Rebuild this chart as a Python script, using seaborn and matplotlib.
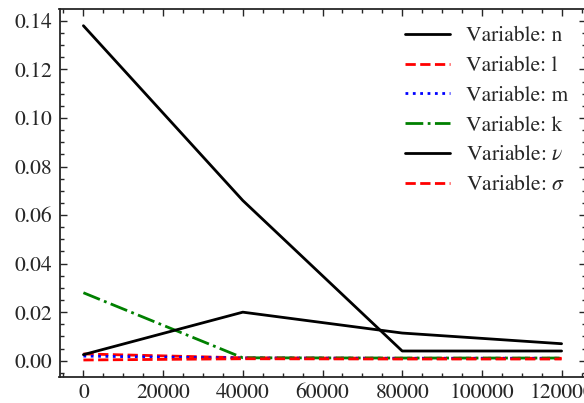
import numpy as np
import pandas as pd
import matplotlib
matplotlib.use("Agg")
import matplotlib.pyplot as plt
from matplotlib.ticker import MultipleLocator, FormatStrFormatter
import seaborn as sns

# Iteration checkpoints and the error curve of each variable
steps = [0, 40000, 80000, 120000]
var_n = [0.138, 0.066, 0.004, 0.004]
var_l = [0.0028, 0.0012, 0.0010, 0.0010]
var_m = [0.0019, 0.0011, 0.0010, 0.0010]
var_k = [0.028, 0.0012, 0.0011, 0.0011]
var_nu = [0.0025, 0.020, 0.0114, 0.0070]
var_sigma = [0.0003, 0.0008, 0.0007, 0.0007]

labels = ["Variable: n", "Variable: l", "Variable: m", "Variable: k",
          r"Variable: $\nu$", r"Variable: $\sigma$"]
series = [var_n, var_l, var_m, var_k, var_nu, var_sigma]
colors = ["black", "red", "blue", "green", "black", "red"]
styles = ["-", "--", ":", "-.", "-", "--"]

sns.set_style("ticks")
plt.rcParams["font.family"] = ["STIXGeneral", "Liberation Serif", "DejaVu Serif"]
plt.rcParams["mathtext.fontset"] = "stix"
plt.rcParams["xtick.direction"] = "in"
plt.rcParams["ytick.direction"] = "in"

fig = plt.figure(figsize=(5.84, 4.03), dpi=100)
ax = fig.add_axes([59.5 / 584, (403 - 376.7) / 403, (585.5 - 59.5) / 584, (376.7 - 9) / 403])

for vals, lab, c, ls in zip(series, labels, colors, styles):
    df = pd.DataFrame({"step": steps, "value": vals})
    sns.lineplot(data=df, x="step", y="value", ax=ax, color=c, linestyle=ls,
                 linewidth=2.0, label=lab)

ax.set_xlabel("")
ax.set_ylabel("")
ax.set_xticks([0, 20000, 40000, 60000, 80000, 100000, 120000])
ax.set_yticks(np.arange(0, 0.141, 0.02))
ax.yaxis.set_major_formatter(FormatStrFormatter("%.2f"))
ax.xaxis.set_minor_locator(MultipleLocator(5000))
ax.yaxis.set_minor_locator(MultipleLocator(0.005))
ax.tick_params(which="both", top=True, right=True, direction="in",
               labelsize=15.5, width=1.0)
ax.tick_params(which="major", length=5, pad=5)
ax.tick_params(which="minor", length=3)
for sp in ax.spines.values():
    sp.set_linewidth(1.3)

ax.legend(loc="upper right", frameon=False, fontsize=15.5,
          handlelength=2.1, handletextpad=0.75, labelspacing=0.45,
          borderaxespad=0.4)

fig.savefig("out.png", dpi=100)
